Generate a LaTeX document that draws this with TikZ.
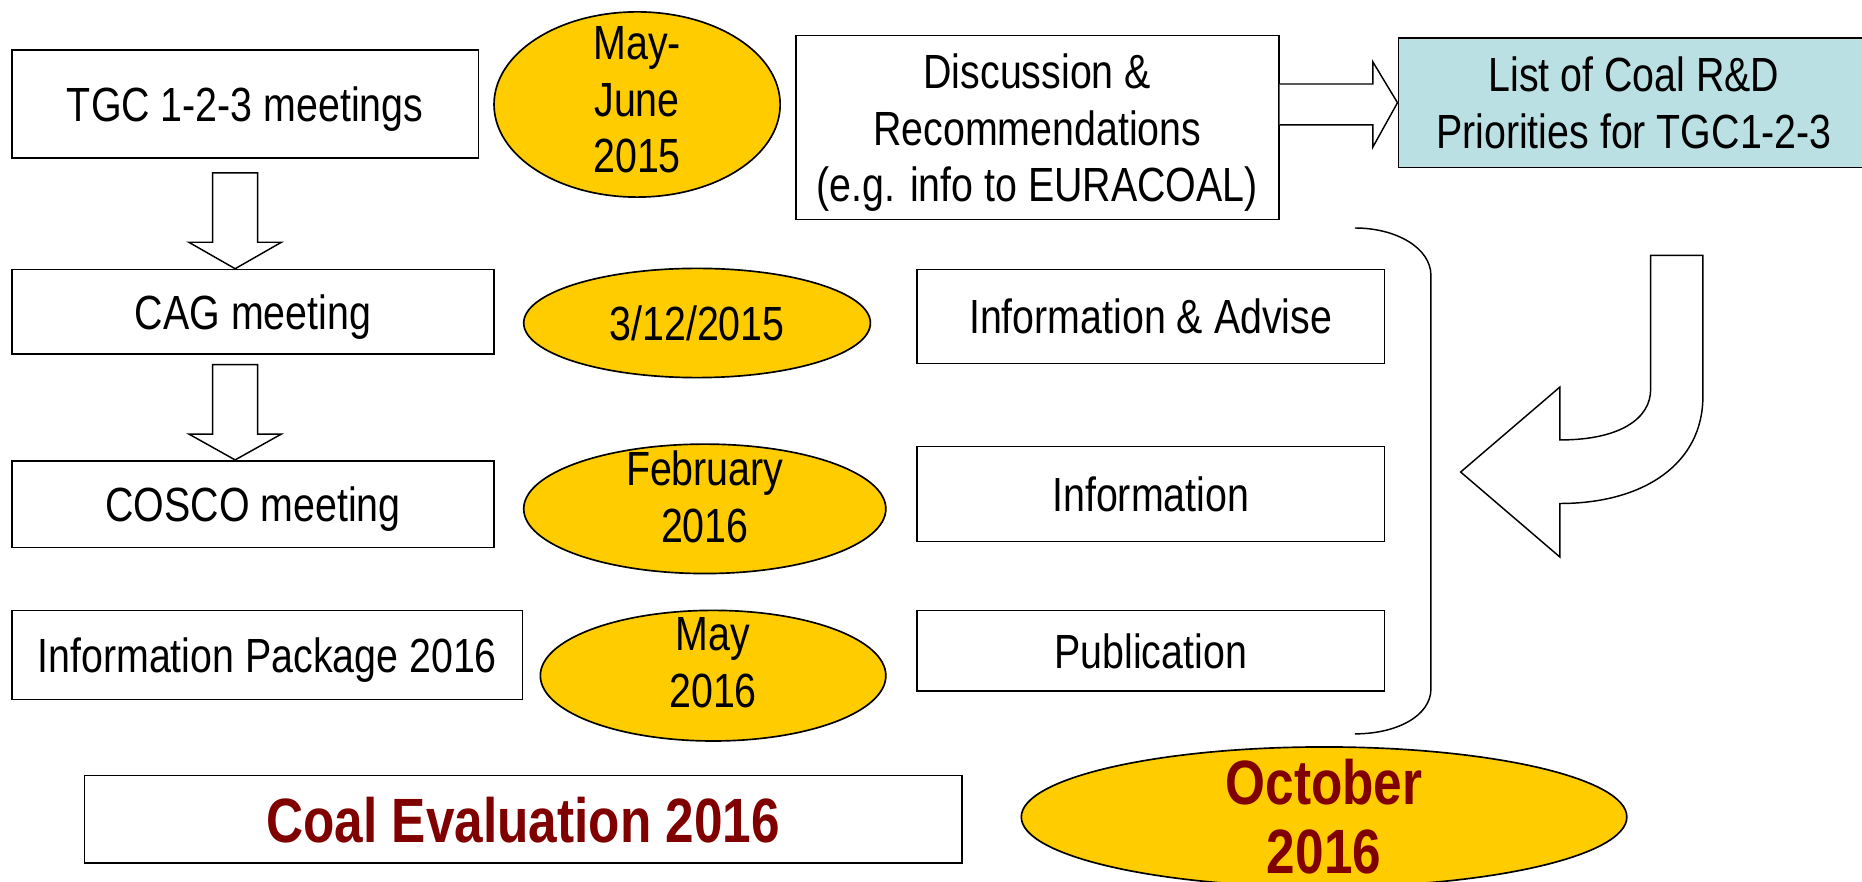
\documentclass[tikz,border=0pt]{standalone}
\usepackage{fontspec}
\setmainfont{Liberation Sans}[FakeStretch=0.82]
\usetikzlibrary{shapes.geometric}

\definecolor{gold}{HTML}{FFCC00}
\definecolor{paleblue}{HTML}{BBE0E3}
\definecolor{coalred}{HTML}{800000}

\tikzset{
  meet/.style={draw, rectangle, line width=0.8pt, inner sep=0pt, align=center,
    text depth=0pt, font=\fontsize{23}{27}\selectfont},
  datum/.style={draw, ellipse, fill=gold, line width=0.8pt, inner sep=0pt},
  dtext/.style={align=center, font=\fontsize{23}{27}\selectfont},
  bigtext/.style={align=center, text=coalred, font=\fontsize{30}{33}\selectfont\bfseries},
  hollow/.style={draw, fill=white, line width=0.7pt, line join=miter}
}

\begin{document}
\begin{tikzpicture}[x=0.02cm, y=-0.02cm]

        \path[use as bounding box, clip] (0,0) rectangle (1568,742);

        % Meetings (left column)
        \node[meet, minimum width=7.86cm, minimum height=1.82cm] (tgc) at (206.5,87.5) {TGC 1-2-3 meetings};
        \node[meet, minimum width=8.12cm, minimum height=1.42cm] (cag) at (213,262.5) {CAG meeting};
        \node[meet, minimum width=8.12cm, minimum height=1.46cm] (cosco) at (213,424.5) {COSCO meeting};
        \node[meet, minimum width=8.6cm, minimum height=1.5cm] (pack) at (225,551.5) {Information Package 2016};
        \node[meet, minimum width=14.78cm, minimum height=1.48cm, font=\fontsize{30}{33}\selectfont\bfseries, text=coalred] (eval) at (440.5,690) {Coal Evaluation 2016};

        % Dates
        \node[datum, minimum width=4.82cm, minimum height=3.12cm,
              label={[dtext, yshift=0.08cm]center:{May-\\June\\2015}}] (may15) at (536.5,88) {};
        \node[datum, minimum width=5.84cm, minimum height=1.84cm,
              label={[dtext]center:{3/12/2015}}] (dec15) at (587,272) {};
        \node[datum, minimum width=6.1cm, minimum height=2.18cm,
              label={[dtext, yshift=0.2cm]center:{February\\2016}}] (feb16) at (593.5,428.5) {};
        \node[datum, minimum width=5.82cm, minimum height=2.2cm,
              label={[dtext, yshift=0.22cm]center:{May\\2016}}] (may16) at (600.5,569) {};
        \node[datum, minimum width=10.2cm, minimum height=2.36cm,
              label={[bigtext]center:{October\\2016}}] (oct16) at (1115,688) {};

        % Outcomes (right column)
        \node[meet, minimum width=8.14cm, minimum height=3.1cm] (dis) at (873.5,107.5) {Discussion \&\\Recommendations\\(e.g. info to EURACOAL)};
        \node[meet, fill=paleblue, minimum width=7.94cm, minimum height=2.18cm] (list) at (1376,86.5) {List of Coal R\&D\\Priorities for TGC1-2-3};
        \node[meet, minimum width=7.88cm, minimum height=1.58cm] (advise) at (969,266.5) {Information \& Advise};
        \node[meet, minimum width=7.88cm, minimum height=1.6cm] (info) at (969,416) {Information};
        \node[meet, minimum width=7.88cm, minimum height=1.36cm] (pub) at (969,548) {Publication};

        % Block arrows down
        \draw[hollow] (179,145.5) -- (179,204) -- (159,204) -- (198,0 |- cag.north) -- (237,204) -- (217,204) -- (217,145.5) -- cycle;
        \draw[hollow] (179,307) -- (179,365.5) -- (159,365.5) -- (198,0 |- cosco.north) -- (237,365.5) -- (217,365.5) -- (217,307) -- cycle;

        % Block arrow right
        \draw[hollow] (dis.east |- 0,70.75) -- (1156,70.75) -- (1156,52) -- (list.west) -- (1156,124) -- (1156,105.25) -- (dis.east |- 0,105.25);

        % Brace
        \draw[line width=0.7pt] (1141,192) .. controls (1176,192) and (1205,209) .. (1205,232)
              -- (1205,580) .. controls (1205,603) and (1176,618) .. (1141,618);

        % Turning arrow
        \draw[hollow] (1390,215) -- (1434,215) -- (1434,334)
              .. controls (1434,390) and (1385,424) .. (1313.5,424)
              -- (1313.5,469) -- (1230,397.5) -- (1313.5,326) -- (1313.5,370.5)
              .. controls (1365,370.5) and (1390,352) .. (1390,328) -- cycle;

    \end{tikzpicture}
\end{document}
